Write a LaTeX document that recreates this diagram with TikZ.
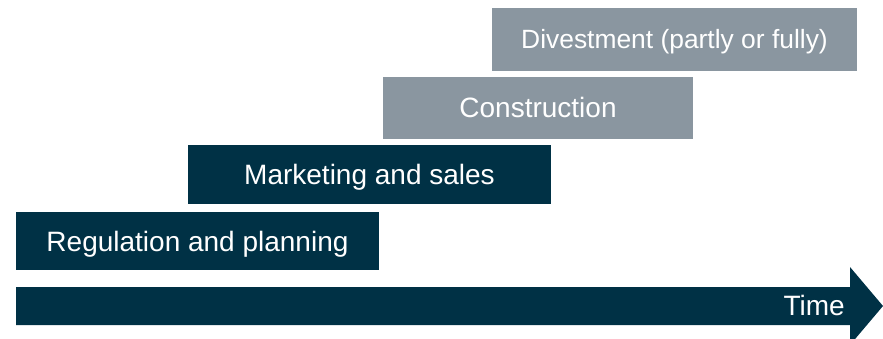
\documentclass[tikz,border=0pt]{standalone}
\usepackage{fontspec}
\setmainfont{Liberation Sans}
\usepackage{xcolor}
\definecolor{phasedark}{RGB}{0,49,69}
\definecolor{phasegray}{RGB}{138,150,160}

\begin{document}
\begin{tikzpicture}[x=1pt, y=-1pt,
        phase/.style={rectangle, anchor=north west, inner sep=0pt, outer sep=0pt,
            text=white, font=\fontsize{28}{34}\selectfont, text height=20pt, text depth=0pt},
        darkphase/.style={phase, fill=phasedark},
        grayphase/.style={phase, fill=phasegray}]
        \useasboundingbox (0,0) rectangle (883,339);

        % time axis
        \fill[phasedark] (16,287) -- (850,287) -- (850,267) -- (883,306)
            -- (850,345) -- (850,325) -- (16,325) -- cycle;
        \node[anchor=base east, inner sep=0pt, text=white, font=\fontsize{28}{34}\selectfont] (Time) at (845,315) {Time};

        % phases
        \node[darkphase, minimum width=363pt, minimum height=58pt] (Regulation) at (16,212) {Regulation and planning};
        \node[darkphase, minimum width=363pt, minimum height=59pt] (Marketing) at (188,145) {Marketing and sales};
        \node[grayphase, minimum width=310pt, minimum height=62pt] (Construction) at (383,77) {Construction};
        \node[grayphase, minimum width=365pt, minimum height=63pt, font=\fontsize{26.4}{32}\selectfont,
            text height=19pt, text depth=-6pt] (Divestment) at (492,8) {Divestment (partly or fully)};
    \end{tikzpicture}
\end{document}
